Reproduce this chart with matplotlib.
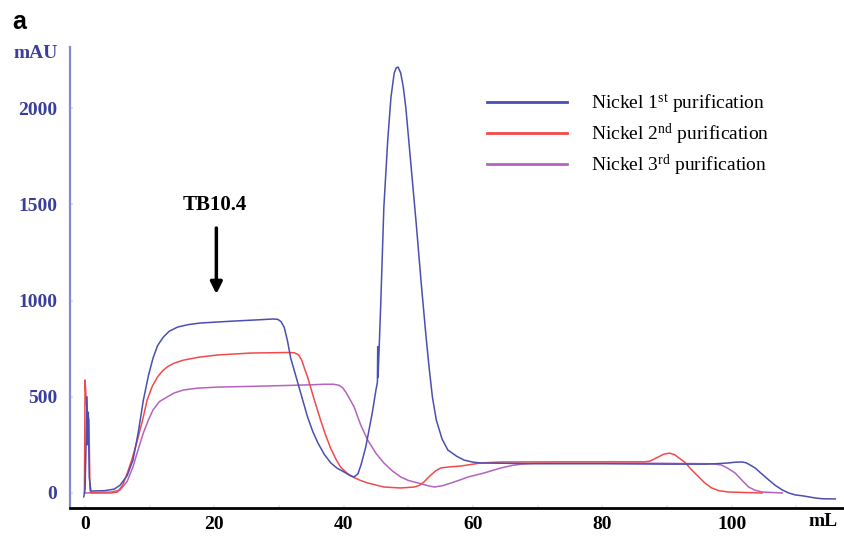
import matplotlib
matplotlib.use("Agg")
import matplotlib.pyplot as plt

plt.rcParams['mathtext.fontset'] = 'custom'
plt.rcParams['mathtext.rm'] = 'Liberation Serif'
plt.rcParams['mathtext.it'] = 'Liberation Serif:italic'
plt.rcParams['mathtext.bf'] = 'Liberation Serif:bold'

# ---- data (volume mL, absorbance mAU) ----
blue_x = [-0.2, 0.0, 0.15, 0.3, 0.4, 0.5, 0.65, 0.9, 3.0, 4.5, 5.4, 6.5, 7.4, 8.2, 9.0, 9.8,
          10.5, 11.2, 12.1, 13.0, 14.3, 16.0, 17.8, 22.9, 27.0, 29.1, 29.8, 30.3, 30.8, 31.3,
          31.8, 32.4, 32.9, 34.4, 35.2, 36.0, 37.0, 38.0, 39.0, 40.0, 41.0, 41.6, 42.2, 42.7,
          43.4, 44.4, 45.0, 45.2, 45.25, 45.3, 45.5, 45.7, 46.2, 46.8, 47.3, 47.8, 48.1, 48.4,
          48.8, 49.2, 49.6, 50.4, 51.2, 52.0, 52.7, 53.2, 53.7, 54.3, 55.2, 56.1, 57.5, 58.6,
          60.0, 61.2, 70.0, 80.0, 90.0, 96.0, 97.5, 98.5, 99.5, 100.5, 101.6, 102.2, 102.6,
          103.6, 104.6, 105.7, 106.7, 107.8, 108.8, 109.8, 111.0, 112.9, 114.0, 116.0]
blue_y = [-20, 20, 250, 500, 250, 420, 80, 10, 12, 20, 40, 90, 170, 310, 480, 610,
          700, 765, 810, 840, 862, 875, 883, 893, 900, 904, 902, 890, 860, 790,
          700, 630, 571, 395, 320, 260, 200, 156, 128, 110, 90, 83, 100, 150,
          239, 415, 540, 575, 760, 600, 780, 966, 1486, 1834, 2057, 2182, 2208, 2213,
          2182, 2110, 2000, 1700, 1400, 1080, 820, 650, 500, 380, 280, 223, 190, 171,
          160, 156, 152, 152, 150, 150, 152, 154, 156, 160, 161, 157, 150,
          130, 100, 68, 40, 16, 0, -10, -15, -26, -30, -31]

red_x = [-0.1, 0.0, 0.15, 0.3, 0.5, 0.6, 0.75, 0.9, 4.0, 5.0, 5.8, 6.5, 7.3, 8.1, 8.9, 9.6,
         10.4, 11.2, 12.0, 12.7, 13.8, 15.2, 17.5, 20.5, 25.6, 31.5, 32.4, 33.0, 33.5, 34.0,
         34.4, 35.3, 36.4, 37.2, 38.0, 38.8, 39.5, 40.6, 41.6, 42.6, 43.7, 46.2, 48.8, 50.9,
         51.7, 52.4, 53.0, 53.5, 54.2, 55.0, 56.5, 58.1, 61.2, 64.3, 75.0, 86.5, 87.3, 88.5,
         89.5, 90.4, 91.2, 91.9, 92.7, 93.8, 94.9, 95.9, 96.9, 98.0, 99.5, 104.7]
red_y = [0, 587, 500, 420, 395, 380, 20, 0, 0, 5, 40, 100, 180, 275, 380, 483,
         555, 603, 635, 655, 675, 690, 705, 717, 727, 730, 728, 718, 690, 640,
         603, 500, 380, 300, 230, 175, 135, 100, 80, 65, 52, 31, 26, 31,
         40, 57, 78, 94, 115, 130, 136, 140, 156, 161, 162, 162, 165, 185,
         202, 207, 198, 180, 161, 120, 83, 50, 26, 12, 5, 0]

purple_x = [0.0, 4.0, 5.4, 6.5, 7.4, 8.2, 9.0, 9.8, 10.5, 11.5, 12.7, 13.8, 15.2, 17.5, 20.5,
            28.3, 35.0, 37.0, 38.4, 39.2, 39.8, 40.4, 41.6, 42.6, 43.7, 45.0, 46.2, 47.5, 48.8,
            50.0, 51.5, 53.0, 54.0, 55.3, 56.6, 58.0, 59.2, 61.7, 64.3, 66.0, 67.5, 70.0, 85.0,
            96.5, 97.5, 98.4, 99.4, 100.5, 101.6, 102.6, 103.6, 104.7, 107.8]
purple_y = [0, 5, 15, 60, 135, 225, 311, 380, 431, 475, 499, 520, 535, 545, 550,
            556, 562, 565, 565, 560, 548, 520, 447, 355, 275, 205, 156, 115, 83,
            65, 52, 38, 31, 38, 52, 68, 83, 104, 130, 143, 150, 155, 155,
            152, 150, 145, 128, 104, 65, 31, 14, 5, 0]

series_labels = [r'Nickel 1$^{\mathrm{st}}$ purification',
                 r'Nickel 2$^{\mathrm{nd}}$ purification',
                 r'Nickel 3$^{\mathrm{rd}}$ purification']
x_ticks = [0, 20, 40, 60, 80, 100]
y_ticks = [0, 500, 1000, 1500, 2000]

BLUE = '#4a4fb0'
RED = '#f24a4a'
PURPLE = '#b463be'
AXBLUE = '#8589cc'
TXTBLUE = '#3a3f9c'

fig = plt.figure(figsize=(8.45, 5.37), dpi=100)
ax = fig.add_axes([70/845, 29/537, 775/845, 461/537])

ax.plot(purple_x, purple_y, color=PURPLE, lw=1.1, label=series_labels[2], zorder=2)
ax.plot(red_x, red_y, color=RED, lw=1.1, label=series_labels[1], zorder=3)
ax.plot(blue_x, blue_y, color=BLUE, lw=1.1, label=series_labels[0], zorder=4)

ax.set_xlim(-2.33, 117.5)
ax.set_ylim(-78, 2317)

for s in ['top', 'right']:
    ax.spines[s].set_visible(False)
ax.spines['bottom'].set_color('black')
ax.spines['bottom'].set_linewidth(2.0)
ax.spines['left'].set_color(AXBLUE)
ax.spines['left'].set_linewidth(1.6)

ax.set_xticks(x_ticks)
ax.set_xticklabels([str(v) for v in x_ticks], fontfamily='Liberation Serif',
                   fontweight='bold', fontsize=14, color='black')
ax.set_xticks(list(range(0, 120, 10)), minor=True)
ax.set_yticks(y_ticks)
ax.set_yticklabels([str(v) for v in y_ticks], fontfamily='Liberation Serif',
                   fontweight='bold', fontsize=14, color=TXTBLUE)
ax.tick_params(axis='x', which='both', direction='in', length=2.5, width=1.2,
               color='#e8e8e8', pad=6)
ax.tick_params(axis='y', which='both', direction='in', length=2.5, width=1.2,
               color='#dcdcf0', pad=9)

h, l = ax.get_legend_handles_labels()
order = [2, 1, 0]
leg = fig.legend([h[i] for i in order], [l[i] for i in order],
                 loc='upper left', bbox_to_anchor=(487/845, 1 - 92/537),
                 frameon=False, borderpad=0, borderaxespad=0,
                 handlelength=4.12, handletextpad=1.24, labelspacing=0.31,
                 prop={'family': 'Liberation Serif', 'size': 14})
for line in leg.get_lines():
    line.set_linewidth(2.0)

fig.text(36/845, 1 - 54/537, 'mAU', fontfamily='Liberation Serif', fontweight='bold',
         fontsize=14, color=TXTBLUE, ha='center', va='center')
fig.text(823/845, 1 - 522/537, 'mL', fontfamily='Liberation Serif', fontweight='bold',
         fontsize=14, color='black', ha='center', va='center')
fig.text(12/845, 1 - 22/537, 'a', fontfamily='Liberation Sans', fontweight='bold',
         fontsize=18, color='black', ha='left', va='center')

ax.text(20, (493 - 205) / 0.1925, 'TB10.4', fontfamily='Liberation Serif',
        fontweight='bold', fontsize=15, ha='center', va='center')
ax.annotate('', xy=(20.3, (493 - 294) / 0.1925), xytext=(20.3, (493 - 228) / 0.1925),
            arrowprops=dict(arrowstyle='-|>,head_width=0.35,head_length=0.7',
                            color='black', lw=2.5, shrinkA=0, shrinkB=0))

fig.savefig('out.png', dpi=100)
